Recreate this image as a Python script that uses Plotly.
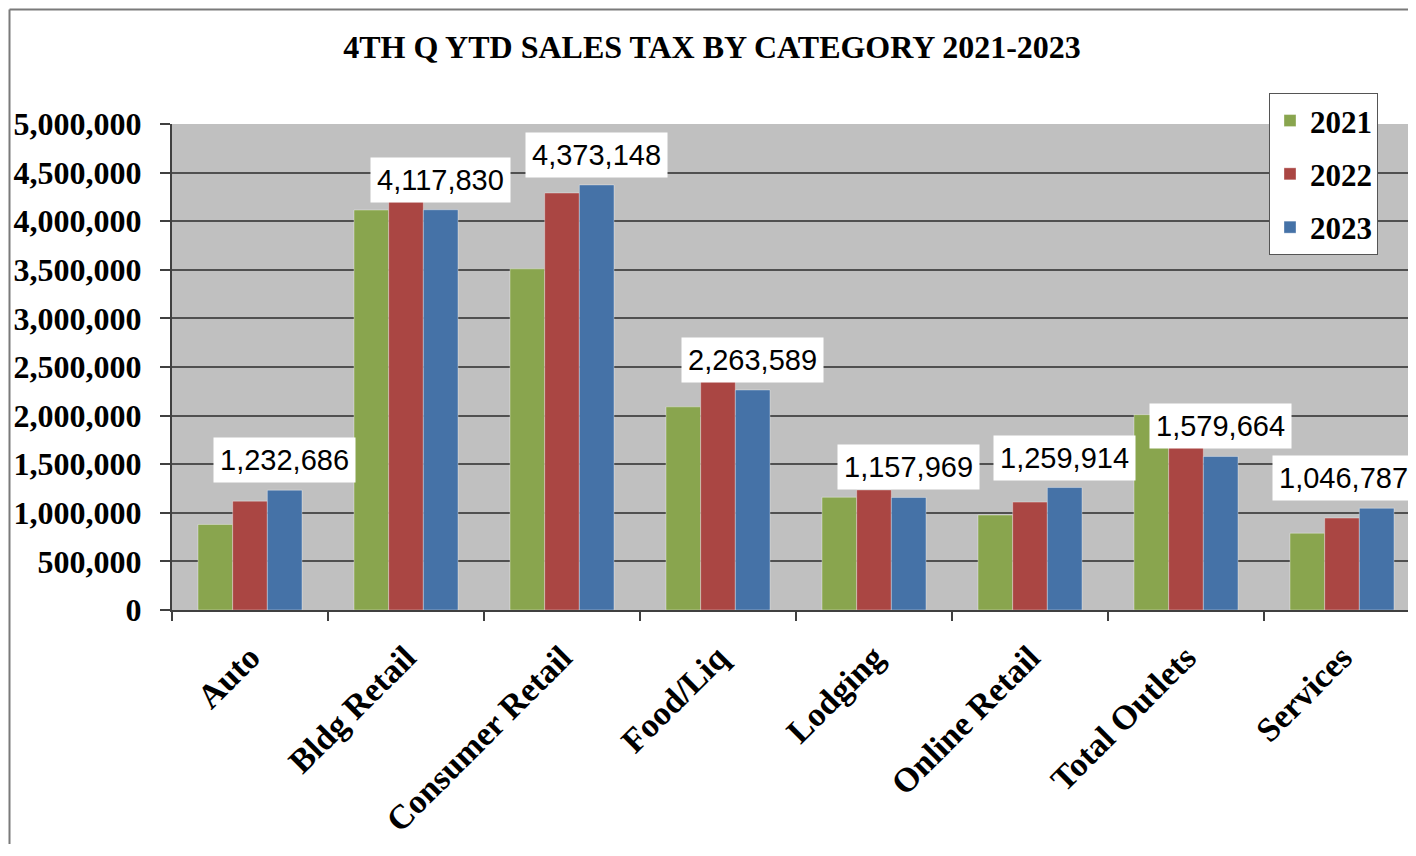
import plotly.graph_objects as go

categories = ["Auto", "Bldg Retail", "Consumer Retail", "Food/Liq", "Lodging",
              "Online Retail", "Total Outlets", "Services"]
years = ["2021", "2022", "2023"]
sales_2021 = [880000, 4115000, 3510000, 2090000, 1160000, 977000, 2010000, 790000]
sales_2022 = [1120000, 4200000, 4290000, 2350000, 1235000, 1110000, 1680000, 946000]
sales_2023 = [1232686, 4117830, 4373148, 2263589, 1157969, 1259914, 1579664, 1046787]
colors = ["#89A54E", "#AA4643", "#4572A7"]
ytick_vals = [0, 500000, 1000000, 1500000, 2000000, 2500000, 3000000, 3500000, 4000000, 4500000, 5000000]
ytick_text = ["0", "500,000", "1,000,000", "1,500,000", "2,000,000", "2,500,000",
              "3,000,000", "3,500,000", "4,000,000", "4,500,000", "5,000,000"]

serif = "Liberation Serif, Times New Roman, serif"
series = [sales_2021, sales_2022, sales_2023]

fig = go.Figure()
for yr, vals, col in zip(years, series, colors):
    fig.add_trace(go.Bar(
        x=categories, y=vals, name=f"<b>{yr}</b>", legendgroup=yr,
        marker=dict(color=col, line=dict(color="rgba(255,255,255,0.35)", width=1)),
    ))

bargap = 1 / 3
bar_offset = (1 - bargap) / 3
n = len(sales_2023)
for i, v in enumerate(sales_2023):
    fig.add_annotation(
        x=i + bar_offset, y=v, xref="x", yref="y",
        text=f"{v:,}", showarrow=False, yanchor="bottom", yshift=7,
        xshift=-33 if i == n - 1 else 0,  # last label nudged inward to stay inside the chart
        font=dict(family="Liberation Sans, Arial", size=29, color="black"),
        bgcolor="white", borderpad=6,
    )

# outer chart border (left and top edges visible)
W, H = 1400, 836
ML, MT, MB = 164, 116, 234
pw, ph = W - ML, H - MT - MB
fig.add_shape(type="line", xref="paper", yref="paper",
              x0=(1.5 - ML) / pw, x1=(1.5 - ML) / pw, y0=-0.6, y1=(ph + MT - 1.5) / ph,
              line=dict(color="#7a7a7a", width=2))
fig.add_shape(type="line", xref="paper", yref="paper",
              x0=(1.5 - ML) / pw, x1=1.05, y0=(ph + MT - 1.5) / ph, y1=(ph + MT - 1.5) / ph,
              line=dict(color="#7a7a7a", width=2))

fig.update_layout(
    width=W, height=H,
    margin=dict(l=ML, r=0, t=MT, b=MB),
    paper_bgcolor="white", plot_bgcolor="#C0C0C0",
    barmode="group", bargap=bargap, bargroupgap=0,
    title=dict(text="<b>4TH Q YTD SALES TAX BY CATEGORY 2021-2023</b>",
               x=704 / W, xref="container", xanchor="center",
               y=1 - 39 / H, yref="container", yanchor="middle",
               font=dict(family=serif, size=32, color="black")),
    legend=dict(x=(1261 - ML) / pw, y=1.064, xanchor="left", yanchor="top",
                bgcolor="white", bordercolor="#555", borderwidth=1,
                font=dict(family=serif, size=31, color="black"),
                traceorder="grouped", tracegroupgap=10,
                itemwidth=30),
    showlegend=True,
)
fig.update_xaxes(
    type="category", range=[-0.5, 7.423],
    tickvals=categories, ticktext=[f"<b>{c}</b>" for c in categories],
    showgrid=False, showline=True, linecolor="#404040", linewidth=2,
    ticks="outside", tickson="boundaries", ticklen=9, tickcolor="#404040", tickwidth=2,
    tickangle=-45, ticklabelstandoff=12,
    tickfont=dict(family=serif, size=34, color="black"),
)
fig.update_yaxes(
    range=[0, 5000000], tickvals=ytick_vals, ticktext=[f"<b>{t}</b>" for t in ytick_text],
    showgrid=True, gridcolor="#505050", gridwidth=1.5,
    showline=True, linecolor="#404040", linewidth=2,
    ticks="outside", ticklen=10, tickcolor="#404040", tickwidth=2,
    ticklabelstandoff=12, zeroline=False,
    tickfont=dict(family=serif, size=32, color="black"),
)

fig.write_html("out.html")
